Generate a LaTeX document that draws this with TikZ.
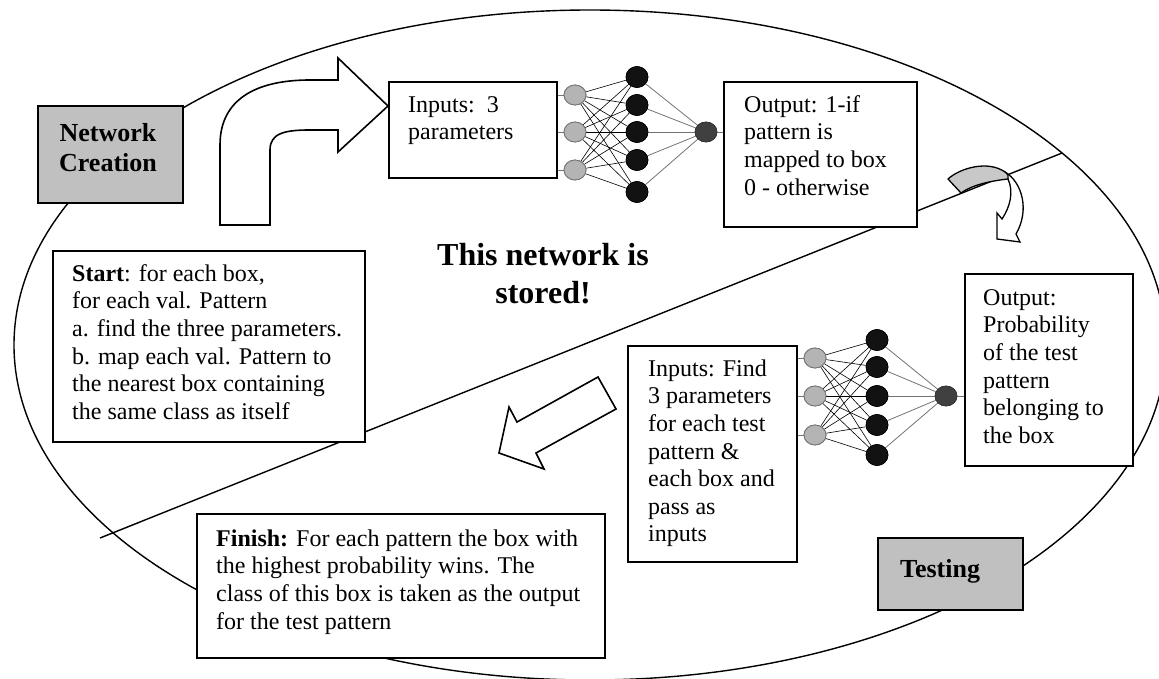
\documentclass[tikz,border=0pt]{standalone}
\usepackage{fontspec}
\setmainfont{Liberation Serif}
\usetikzlibrary{shapes.geometric}
\definecolor{boxgray}{RGB}{192,192,192}
\definecolor{arrowgray}{RGB}{200,200,200}
\definecolor{ingray}{RGB}{180,180,180}
\begin{document}
\begin{tikzpicture}[x=1pt,y=-1pt,
  outline/.style={draw=black, line width=1.4pt},
  boxat/.style={draw=black, line width=1.7pt, fill=white, anchor=north west, inner sep=0pt},
  grayboxat/.style={boxat, fill=boxgray},
  bodytxt/.style={anchor=north west, inner sep=0pt, align=left, font=\fontsize{24}{27.6}\selectfont},
  labeltxt/.style={inner sep=0pt, align=center, font=\fontsize{26}{30}\selectfont\bfseries},
  headtxt/.style={anchor=north, inner sep=0pt, align=center, font=\fontsize{32}{38}\selectfont\bfseries},
  inneuron/.style={ellipse, minimum width=22, minimum height=20, inner sep=0pt, fill=ingray, draw=black!55, line width=0.8pt},
  hidneuron/.style={ellipse, minimum width=22, minimum height=21, inner sep=0pt, fill=black!93, draw=black, line width=0.6pt},
  outneuron/.style={ellipse, minimum width=22, minimum height=20, inner sep=0pt, fill=black!75, draw=black!80, line width=0.6pt},
  wire/.style={draw=black, line width=0.6pt},
  owire/.style={draw=black!55, line width=0.8pt},
  bigarrow/.style={draw=black, line width=1.6pt, fill=white, line join=miter}
]
\useasboundingbox (0,0) rectangle (1159,679);

% big ellipse and dividing line
\draw[outline] (590,345) ellipse [x radius=576pt, y radius=335pt];
\coordinate (dl) at (100,538);
\coordinate (dr) at (1062,153);
\draw[outline] (dl) -- (dr);

% boxes
\node[grayboxat, minimum width=145, minimum height=97] (ncbox) at (37,105) {};
\node[grayboxat, minimum width=145, minimum height=72] (testbox) at (877,537) {};
\node[boxat, minimum width=312, minimum height=191] (startbox) at (52,250) {};
\node[boxat, minimum width=168, minimum height=96] (topin) at (388,81) {};
\node[boxat, minimum width=193, minimum height=145] (topout) at (723,81) {};
\node[boxat, minimum width=168, minimum height=192] (botout) at (964,273) {};
\node[boxat, minimum width=169, minimum height=216] (botin) at (627,345) {};
\node[boxat, minimum width=408, minimum height=144] (finbox) at (196,513) {};

% top network
\node[inneuron] (ti1) at (575,95) {};
\node[inneuron] (ti2) at (575,132) {};
\node[inneuron] (ti3) at (575,170) {};
\node[hidneuron] (th1) at (637,77) {};
\node[hidneuron] (th2) at (637,105) {};
\node[hidneuron] (th3) at (637,132) {};
\node[hidneuron] (th4) at (637,160) {};
\node[hidneuron] (th5) at (637,192) {};
\node[outneuron] (to) at (706,132) {};
\begin{scope}[on background layer/.style={}]
\foreach \i in {1,2,3}{
  \foreach \h in {1,...,5}{ \draw[wire] (ti\i) -- (th\h); }
  \draw[owire] (topin.east |- ti\i) -- (ti\i);
}
\foreach \h in {1,...,5}{ \draw[owire] (th\h) -- (to); }
\draw[owire] (to) -- (topout.west |- to);
\end{scope}
\foreach \n in {ti1,ti2,ti3}{ \node[inneuron] at (\n) {}; }
\foreach \n in {th1,th2,th3,th4,th5}{ \node[hidneuron] at (\n) {}; }
\node[outneuron] at (to) {};

% bottom network
\node[inneuron] (bi1) at (815,358) {};
\node[inneuron] (bi2) at (815,396) {};
\node[inneuron] (bi3) at (815,435) {};
\node[hidneuron] (bh1) at (877,340) {};
\node[hidneuron] (bh2) at (877,367) {};
\node[hidneuron] (bh3) at (877,396) {};
\node[hidneuron] (bh4) at (877,425) {};
\node[hidneuron] (bh5) at (877,455) {};
\node[outneuron] (bo) at (946,396) {};
\foreach \i in {1,2,3}{
  \foreach \h in {1,...,5}{ \draw[wire] (bi\i) -- (bh\h); }
  \draw[owire] (botin.east |- bi\i) -- (bi\i);
}
\foreach \h in {1,...,5}{ \draw[owire] (bh\h) -- (bo); }
\draw[owire] (bo) -- (botout.west |- bo);
\foreach \n in {bi1,bi2,bi3}{ \node[inneuron] at (\n) {}; }
\foreach \n in {bh1,bh2,bh3,bh4,bh5}{ \node[hidneuron] at (\n) {}; }
\node[outneuron] at (bo) {};

% bent block arrow (top left)
\draw[bigarrow] (220,225) -- (220,145) .. controls (220,100) and (255,80) .. (310,80)
  -- (338,80) -- (338,58) -- (388,106) -- (338,152) -- (338,130) -- (310,130)
  .. controls (285,130) and (270,133) .. (270,150) -- (270,225) -- cycle;

% block arrow pointing down-left
\draw[bigarrow] (598,377) -- (517,422) -- (509,407) -- (499,453) -- (544,469) -- (536,453) -- (616,409) -- cycle;

% small curved 3D arrow (right)
\draw[draw=black, line width=1.3pt, fill=white, line join=miter]
  (1005,172) .. controls (1022,182) and (1030,210) .. (1016,234) -- (1020,242) -- (997,239)
  -- (997,213) -- (1002,219) .. controls (1010,207) and (1014,192) .. (1008,179) -- cycle;
\draw[draw=black, line width=1.3pt, fill=arrowgray, line join=round]
  (948,179) .. controls (960,168) and (988,160) .. (1005,172)
  .. controls (1008,174) and (1009,177) .. (1008,179)
  .. controls (990,181) and (972,185) .. (961,193) -- cycle;

% texts
\node[labeltxt, anchor=north] (nctxt) at (108,120.7) {\strut Network\\Creation};
\node[labeltxt, anchor=base] (testtxt) at (940,577) {Testing};
\node[headtxt] (headtxt) at (543,238.4) {\strut This network is\\stored!};
\node[bodytxt] (starttxt) at (72,261.7) {\strut\textbf{Start}: for each box,\\for each val. Pattern\\a. find the three parameters.\\b. map each val. Pattern to\\the nearest box containing\\the same class as itself};
\node[bodytxt] (topintxt) at (408,92.7) {\strut Inputs:\ \ 3\\parameters};
\node[bodytxt] (topouttxt) at (744,92.7) {\strut Output: 1-if\\pattern is\\mapped to box\\0 - otherwise};
\node[bodytxt] (botouttxt) at (983,285.7) {\strut Output:\\Probability\\of the test\\pattern\\belonging to\\the box};
\node[bodytxt] (bointxt) at (648,356.7) {\strut Inputs: Find\\3 parameters\\for each test\\pattern \&\\each box and\\pass as\\inputs};
\node[bodytxt] (fintxt) at (216,526.7) {\strut\textbf{Finish:} For each pattern the box with\\the highest probability wins. The\\class of this box is taken as the output\\for the test pattern};
\end{tikzpicture}
\end{document}
